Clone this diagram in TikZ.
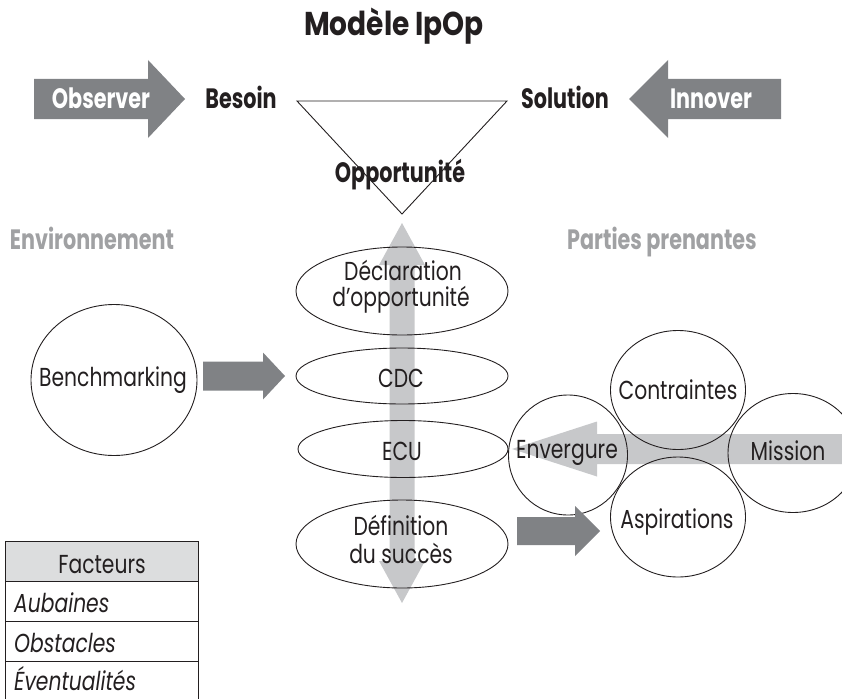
\documentclass[tikz,border=0pt]{standalone}
\usepackage{fontspec}
\setmainfont{Poppins}[FakeStretch=0.78]
\newfontfamily\condfont{Poppins}[FakeStretch=0.74]
\newfontfamily\titlefont{Poppins}[FakeStretch=0.85]
\usetikzlibrary{shapes.geometric,calc}
\definecolor{darkarrow}{HTML}{808285}
\definecolor{lightarrow}{HTML}{C7C8CA}
\definecolor{headgray}{HTML}{A0A1A3}
\definecolor{tablehead}{HTML}{DCDDDE}
\definecolor{ink}{HTML}{231F20}
% horizontal block arrow: style, tail, tip, shaft half, head half, signed head length
\newcommand{\harrow}[6]{%
  \fill[#1] let \p1=(#2), \p2=(#3) in
   (\x1,{\y1+#4pt}) -- ({\x2-(#6pt)},{\y1+#4pt}) -- ({\x2-(#6pt)},{\y1+#5pt}) --
   (\x2,\y1) -- ({\x2-(#6pt)},{\y1-#5pt}) -- ({\x2-(#6pt)},{\y1-#4pt}) --
   (\x1,{\y1-#4pt}) -- cycle;}
% vertical double block arrow: style, top tip, bottom tip, shaft half, head half, head length
\newcommand{\vdarrow}[6]{%
  \fill[#1] let \p1=(#2), \p2=(#3) in
   (\x1,\y1) -- ({\x1+#5pt},{\y1-#6pt}) -- ({\x1+#4pt},{\y1-#6pt}) --
   ({\x1+#4pt},{\y2+#6pt}) -- ({\x1+#5pt},{\y2+#6pt}) -- (\x1,\y2) --
   ({\x1-#5pt},{\y2+#6pt}) -- ({\x1-#4pt},{\y2+#6pt}) --
   ({\x1-#4pt},{\y1-#6pt}) -- ({\x1-#5pt},{\y1-#6pt}) -- cycle;}
\begin{document}
\begin{tikzpicture}[x=1pt,y=-1pt,
  lbl/.style={font=\condfont\bfseries\fontsize{28}{30}\selectfont, inner sep=0pt, text=ink},
  wlbl/.style={lbl, text=white},
  glbl/.style={lbl, text=headgray},
  txt/.style={font=\fontsize{26}{28}\selectfont, inner sep=0pt, text=ink},
  itxt/.style={font=\fontsize{26}{28}\selectfont\itshape, inner sep=0pt, text=ink},
  shapeell/.style={draw=ink, ellipse, line width=0.9pt, inner sep=0pt},
  tabrow/.style={draw=ink, line width=1.4pt, rectangle, inner sep=0pt, minimum width=193pt, minimum height=40pt, anchor=north west}
]
\useasboundingbox (0,0) rectangle (842,698);

% ---------- coordinates for block arrows ----------
\coordinate (obsTail) at (34,99);
\coordinate (obsTip) at (185,99);
\coordinate (innTail) at (781,99);
\coordinate (innTip) at (629,99);
\coordinate (vTop) at (402,223);
\coordinate (vBot) at (402,603);
\coordinate (missTail) at (842,449);
\coordinate (envTip) at (512,449);
\coordinate (bTail) at (203,376);
\coordinate (bTip) at (285,376);
\coordinate (dTail) at (517,531);
\coordinate (dTip) at (600,531);

% ---------- light gray arrows (background) ----------
\vdarrow{lightarrow}{vTop}{vBot}{12.5}{23}{42}
\harrow{lightarrow}{missTail}{envTip}{15}{27.5}{-85}

% ---------- top arrows ----------
\harrow{darkarrow}{obsTail}{obsTip}{20}{39}{37}
\harrow{darkarrow}{innTail}{innTip}{20}{39}{-39}

% ---------- triangle ----------
\coordinate (triL) at (297,101);
\coordinate (triR) at (507,101);
\coordinate (triB) at (402,214);
\draw[ink, line width=0.9pt, line join=miter] (triL) -- (triR) -- (triB) -- cycle;

% ---------- central ellipses ----------
\node[shapeell, minimum width=212pt, minimum height=88pt] (decl) at (402,291) {};
\node[shapeell, minimum width=212pt, minimum height=56pt] (cdc) at (402,376) {};
\node[shapeell, minimum width=210pt, minimum height=57pt] (ecu) at (403,449) {};
\node[shapeell, minimum width=212pt, minimum height=88pt] (defin) at (402,544) {};

% ---------- left circle ----------
\node[shapeell, minimum width=166pt, minimum height=151pt] (bench) at (114,380) {};

% ---------- right circles ----------
\node[shapeell, minimum width=135pt, minimum height=119pt] (contr) at (678,390) {};
\node[shapeell, minimum width=119pt, minimum height=120pt] (enver) at (568,455) {};
\node[shapeell, minimum width=130pt, minimum height=119pt] (miss) at (793,453) {};
\node[shapeell, minimum width=135pt, minimum height=120pt] (aspir) at (678,517) {};

% ---------- dark gray connectors ----------
\harrow{darkarrow}{bTail}{bTip}{14.5}{23.5}{22}
\harrow{darkarrow}{dTail}{dTip}{14}{25}{25}

% ---------- texts ----------
\node[lbl, anchor=base, font=\titlefont\bfseries\fontsize{33}{36}\selectfont] (title) at (394,36) {Modèle IpOp};
\node[wlbl, anchor=base] (observer) at (101,108) {Observer};
\node[lbl, anchor=base] (besoin) at (241,108) {Besoin};
\node[lbl, anchor=base] (solution) at (565,108) {Solution};
\node[wlbl, anchor=base] (innover) at (711,108) {Innover};
\node[lbl, anchor=base] (opport) at (400,182) {Opportunité};
\node[glbl, anchor=base] (environ) at (92,249) {Environnement};
\node[glbl, anchor=base] (parties) at (662,249) {Parties prenantes};

\node[txt, anchor=base] (declA) at (403,280) {Déclaration};
\node[txt, anchor=base] (declB) at (401,306) {d’opportunité};
\node[txt, anchor=base] (cdcT) at (401,387) {CDC};
\node[txt, anchor=base] (ecuT) at (402,460) {ECU};
\node[txt, anchor=base] (defA) at (401,535) {Définition};
\node[txt, anchor=base] (defB) at (401,563) {du succès};
\node[txt, anchor=base] (benchT) at (113,386) {Benchmarking};
\node[txt, anchor=base] (contrT) at (678,399) {Contraintes};
\node[txt, anchor=base] (aspirT) at (677,528) {Aspirations};
\node[txt, anchor=base] (enverT) at (567,458) {Envergure};
\node[txt, anchor=base] (missT) at (788,460) {Mission};

% ---------- table ----------
\node[tabrow, fill=tablehead] (hdr) at (5,541) {};
\node[tabrow] (row1) at (5,581) {};
\node[tabrow] (row2) at (5,621) {};
\node[tabrow, minimum height=48pt] (row3) at (5,661) {};
\node[txt, anchor=base] (hdrT) at (102,573) {Facteurs};
\node[itxt, anchor=base west] (r1T) at (14,612) {Aubaines};
\node[itxt, anchor=base west] (r2T) at (14,652) {Obstacles};
\node[itxt, anchor=base west] (r3T) at (14,690) {Éventualités};
\end{tikzpicture}
\end{document}
